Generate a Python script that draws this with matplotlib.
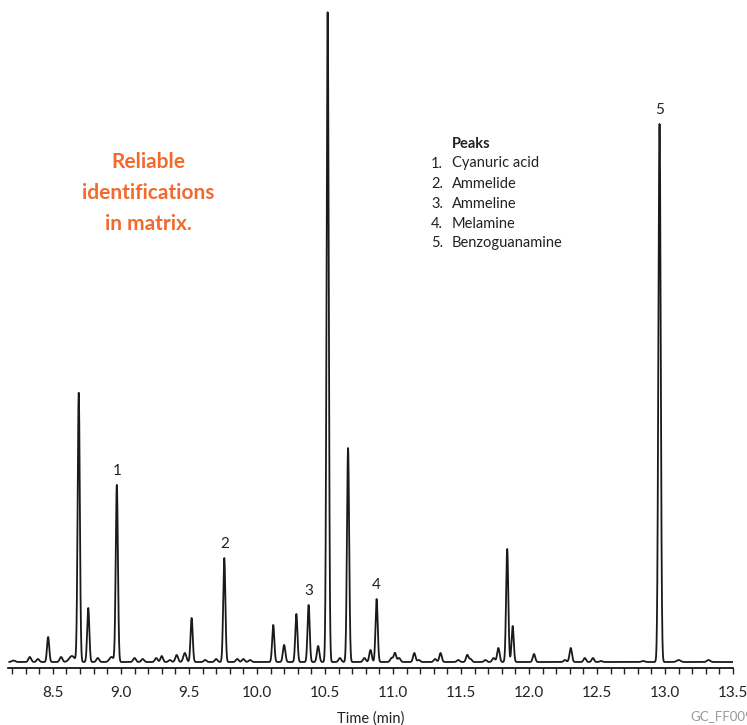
import numpy as np
import matplotlib
matplotlib.use("Agg")
import matplotlib.pyplot as plt
from matplotlib.ticker import MultipleLocator

# ---- data (retention time in min, relative height, width sigma in min) ----
peak_times = [8.21, 8.33, 8.39, 8.465, 8.56, 8.64, 8.69, 8.76, 8.83, 8.93, 8.97,
              9.10, 9.16, 9.26, 9.30, 9.36, 9.41, 9.47, 9.52, 9.62, 9.70, 9.76,
              9.855, 9.90, 9.95, 10.12, 10.20, 10.29, 10.38, 10.45, 10.52, 10.61,
              10.67, 10.79, 10.835, 10.88, 10.99, 11.015, 11.045, 11.157, 11.19,
              11.31, 11.35, 11.48, 11.546, 11.57, 11.68, 11.74, 11.775, 11.84,
              11.88, 12.037, 12.265, 12.307, 12.41, 12.47, 12.53, 12.84, 12.96,
              13.10, 13.32]
peak_heights = [1.5, 5, 3, 25, 5, 6, 269, 54, 4, 5, 177,
                4, 3, 4, 6, 2, 7, 9, 44, 2, 3, 104,
                3, 3, 2, 37, 17, 48, 57, 16, 650, 4,
                214, 4, 12, 63, 4, 9, 4, 9, 2,
                3, 9, 2, 7, 3, 2, 4, 14, 113,
                36, 8, 2, 14, 4, 4, 1, 1, 538,
                2, 2]
peak_widths = [0.012, 0.01, 0.01, 0.008, 0.01, 0.02, 0.008, 0.008, 0.01, 0.015, 0.008,
               0.01, 0.01, 0.01, 0.009, 0.01, 0.01, 0.011, 0.008, 0.01, 0.01, 0.008,
               0.01, 0.01, 0.01, 0.008, 0.009, 0.008, 0.008, 0.009, 0.008, 0.01,
               0.008, 0.01, 0.009, 0.008, 0.01, 0.009, 0.01, 0.009, 0.01,
               0.01, 0.009, 0.01, 0.009, 0.01, 0.01, 0.01, 0.009, 0.008,
               0.008, 0.009, 0.01, 0.009, 0.009, 0.009, 0.01, 0.012, 0.0085,
               0.014, 0.012]

label_names = ["1", "2", "3", "4", "5"]
label_times = [8.97, 9.76, 10.38, 10.88, 12.96]

legend_title = "Peaks"
compounds = ["Cyanuric acid", "Ammelide", "Ammeline", "Melamine", "Benzoguanamine"]

x_start, x_end = 8.18, 13.5

# ---- trace ----
t = np.linspace(x_start, x_end, 8000)
signal = np.zeros_like(t)
for c, h, w in zip(peak_times, peak_heights, peak_widths):
    signal += h * np.exp(-0.5 * ((t - c) / w) ** 2)

txt_font = ["Lato", "DejaVu Sans"]
ink = "#222222"

fig = plt.figure(figsize=(7.47, 7.25), dpi=100)
ax = fig.add_axes([8 / 747, 57 / 725, (733 - 8) / 747, (725 - 57) / 725])
ax.plot(t, signal, color="#1a1a1a", lw=1.3)
ax.set_xlim(8.17, 13.5)
ax.set_ylim(-6, 662)

for s in ["left", "top", "right"]:
    ax.spines[s].set_visible(False)
ax.spines["bottom"].set_linewidth(1.2)
ax.set_yticks([])
ax.xaxis.set_major_locator(MultipleLocator(0.5))
ax.xaxis.set_minor_locator(MultipleLocator(0.1))
ax.xaxis.set_major_formatter(plt.FuncFormatter(lambda v, p: f"{v:.1f}"))
ax.tick_params(axis="x", which="both", direction="out", length=4, width=1.0, color=ink)
ax.tick_params(axis="x", which="major", labelsize=11, pad=9, labelcolor=ink)
for lbl in ax.get_xticklabels():
    lbl.set_family(txt_font)
ax.set_xlabel("Time (min)", fontsize=10.5, family=txt_font, color=ink, labelpad=8)

# peak labels
for name, tm in zip(label_names, label_times):
    idx = np.argmin(np.abs(t - tm))
    hmax = signal[max(idx - 20, 0):idx + 20].max()
    ax.annotate(name, (tm, hmax), xytext=(0, 5), textcoords="offset points",
                ha="center", va="bottom", fontsize=11, family=txt_font, color=ink)

# legend block
fig.text(452 / 747, 1 - 144.5 / 725, legend_title, fontsize=10.5, fontweight="bold",
         family=txt_font, color=ink, va="center", ha="left")
for i, name in enumerate(compounds):
    y = 1 - (163.5 + i * 20.0) / 725
    fig.text(443 / 747, y, f"{i + 1}.", fontsize=10.5, family=txt_font,
             color=ink, va="center", ha="right")
    fig.text(452 / 747, y, name, fontsize=10.5, family=txt_font,
             color=ink, va="center", ha="left")

# orange annotation
fig.text(148 / 747, 1 - 193 / 725, "Reliable\nidentifications\nin matrix.",
         fontsize=15, fontweight="bold", color="#F26A2E", ha="center", va="center",
         family=txt_font, linespacing=1.68)

# figure code
fig.text(690 / 747, 1 - 716 / 725, "GC_FF00977", fontsize=9.5, color="#9a9a9a",
         family=txt_font, va="center", ha="left")

fig.savefig("out.png", dpi=100)
